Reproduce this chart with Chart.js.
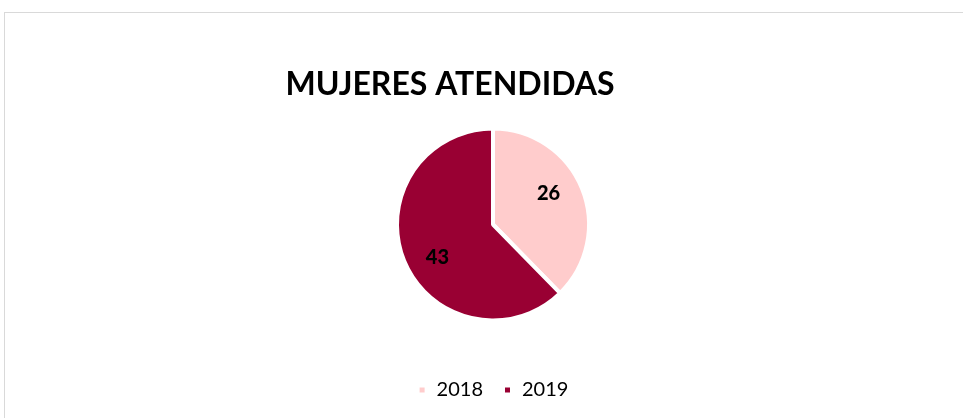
<!DOCTYPE html>
<html>
<head>
<meta charset="utf-8">
<script src="https://cdn.jsdelivr.net/npm/chart.js@4/dist/chart.umd.min.js"></script>
<style>
  html, body { margin: 0; padding: 0; background: #ffffff; }
  #wrap { position: relative; width: 963px; height: 418px; overflow: hidden; }
  #frame { position: absolute; left: 4px; top: 12px; width: 1000px; height: 500px; border: 1px solid #d9d9d9; box-sizing: border-box; }
  #c { position: absolute; left: 0; top: 0; }
</style>
</head>
<body>
<div id="wrap">
  <div id="frame"></div>
  <canvas id="c" width="963" height="418"></canvas>
</div>
<script>
const titleText = "MUJERES ATENDIDAS";
const categories = ["2018", "2019"];
const values = [26, 43];
const colors = ["#FFCCCC", "#990033"];

const sliceLabels = {
  id: 'sliceLabels',
  afterDatasetsDraw(chart) {
    const ctx = chart.ctx;
    const meta = chart.getDatasetMeta(0);
    ctx.save();
    ctx.font = "900 20px Lato";
    ctx.fillStyle = "#000000";
    ctx.textAlign = "center";
    ctx.textBaseline = "middle";
    meta.data.forEach((arc, i) => {
      const p = arc.getProps(['x', 'y', 'startAngle', 'endAngle', 'outerRadius'], true);
      const mid = (p.startAngle + p.endAngle) / 2 - 8 * Math.PI / 180;
      const r = p.outerRadius * 0.67;
      ctx.fillText(String(values[i]), p.x + Math.cos(mid) * r, p.y + Math.sin(mid) * r + 1);
    });
    ctx.restore();
  }
};

const chartTitle = {
  id: 'chartTitle',
  afterDraw(chart) {
    const ctx = chart.ctx;
    ctx.save();
    ctx.font = "bold 32px Lato";
    ctx.fillStyle = "#000000";
    ctx.textAlign = "center";
    ctx.textBaseline = "middle";
    ctx.fillText(titleText, 450, 85);
    ctx.restore();
  }
};

new Chart(document.getElementById('c'), {
  type: 'pie',
  data: {
    labels: categories,
    datasets: [{
      data: values,
      backgroundColor: colors,
      borderColor: "#ffffff",
      borderWidth: 4
    }]
  },
  options: {
    responsive: false,
    animation: false,
    layout: { padding: { left: 395, right: 372, top: 89, bottom: 8 } },
    plugins: {
      title: { display: false },
      tooltip: { enabled: false },
      legend: {
        position: 'bottom',
        labels: {
          boxWidth: 9,
          boxHeight: 9,
          padding: 20,
          color: "#000000",
          font: { family: "Lato", size: 20 }
        }
      }
    }
  },
  plugins: [sliceLabels, chartTitle]
});
</script>
</body>
</html>
